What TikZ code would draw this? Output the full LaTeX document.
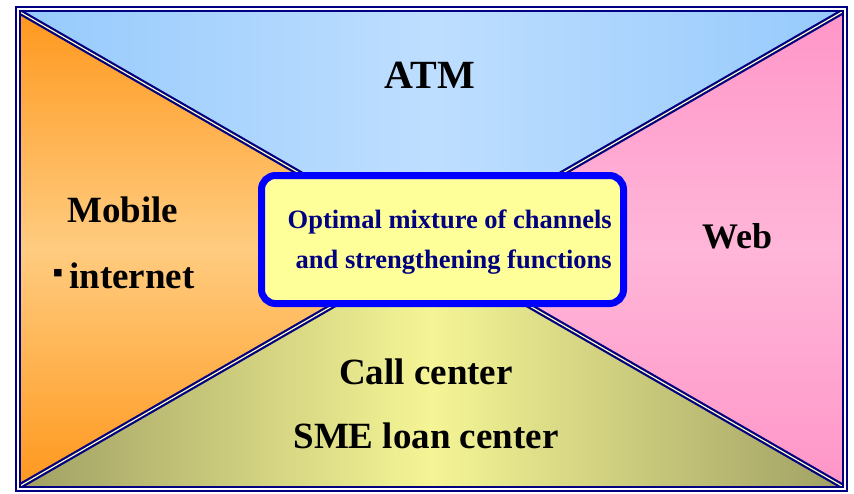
\documentclass[tikz,border=0pt]{standalone}
\usepackage{fontspec}
\setmainfont{Liberation Serif}
\definecolor{navyline}{RGB}{0,0,128}
\definecolor{boxblue}{RGB}{0,0,255}
\definecolor{boxfill}{RGB}{255,255,153}
\definecolor{blueedge}{RGB}{150,202,252}
\definecolor{bluemid}{RGB}{190,222,255}
\definecolor{orangeedge}{RGB}{255,152,30}
\definecolor{orangemid}{RGB}{255,204,128}
\definecolor{pinkedge}{RGB}{255,150,200}
\definecolor{pinkmid}{RGB}{255,182,216}
\definecolor{oliveedge}{RGB}{160,160,100}
\definecolor{yellowmid}{RGB}{245,245,150}
\tikzset{
  frameline/.style={draw=navyline, line width=2pt, double=white, double distance=2pt},
  diagline/.style={draw=navyline, line width=2.2pt, double=white!75!yellow, double distance=1.2pt},
  labeltext/.style={font=\bfseries\fontsize{37}{40}\selectfont, inner sep=0pt, text=black},
  centertext/.style={font=\bfseries\fontsize{26.5}{30}\selectfont, inner sep=0pt, text=navyline},
  centerbox/.style={draw=boxblue, line width=7pt, fill=boxfill, rounded corners=14pt}
}
\begin{document}
\begin{tikzpicture}[x=1pt,y=-1pt]
\useasboundingbox (0,0) rectangle (854,493);
\fill[white] (0,0) rectangle (854,493);
% corners and center
\coordinate (tl) at (20,12);
\coordinate (tr) at (842,12);
\coordinate (br) at (842,486);
\coordinate (bl) at (20,486);
\coordinate (c) at (431,249);
% triangles
\shade[left color=blueedge, right color=blueedge, middle color=bluemid] (tl) -- (tr) -- (c) -- cycle;
\shade[top color=orangeedge, bottom color=orangeedge, middle color=orangemid] (tl) -- (bl) -- (c) -- cycle;
\shade[top color=pinkedge, bottom color=pinkedge, middle color=pinkmid] (tr) -- (br) -- (c) -- cycle;
\shade[left color=oliveedge, right color=oliveedge, middle color=yellowmid] (bl) -- (br) -- (c) -- cycle;
% diagonals
\draw[diagline] (tl) -- (br);
\draw[diagline] (tr) -- (bl);
% frame
\draw[frameline] (17.5,9) rectangle (844.5,488.5);
% center box
\node[centerbox, minimum width=362pt, minimum height=128pt, inner sep=0pt] (box) at (442.5,239.5) {};
\node[centertext, anchor=base east] (l1) at (612,228) {Optimal mixture of channels};
\node[centertext, anchor=base east] (l2) at (612,268) {and strengthening functions};
% labels
\node[labeltext, font=\bfseries\fontsize{40}{44}\selectfont, anchor=base] (atm) at (430,88) {ATM};
\node[labeltext, font=\bfseries\fontsize{36}{40}\selectfont, anchor=base] (web) at (737,248) {Web};
\node[labeltext, anchor=base west] (mobile) at (67,222) {Mobile};
\node[labeltext, anchor=base west] (internet) at (69,288) {internet};
\node[labeltext, font=\bfseries\fontsize{30}{30}\selectfont, anchor=center] (bullet) at (58,276) {▪};
\node[labeltext, anchor=base] (call) at (426,384) {Call center};
\node[labeltext, anchor=base] (sme) at (426,448) {SME loan center};
\end{tikzpicture}
\end{document}
